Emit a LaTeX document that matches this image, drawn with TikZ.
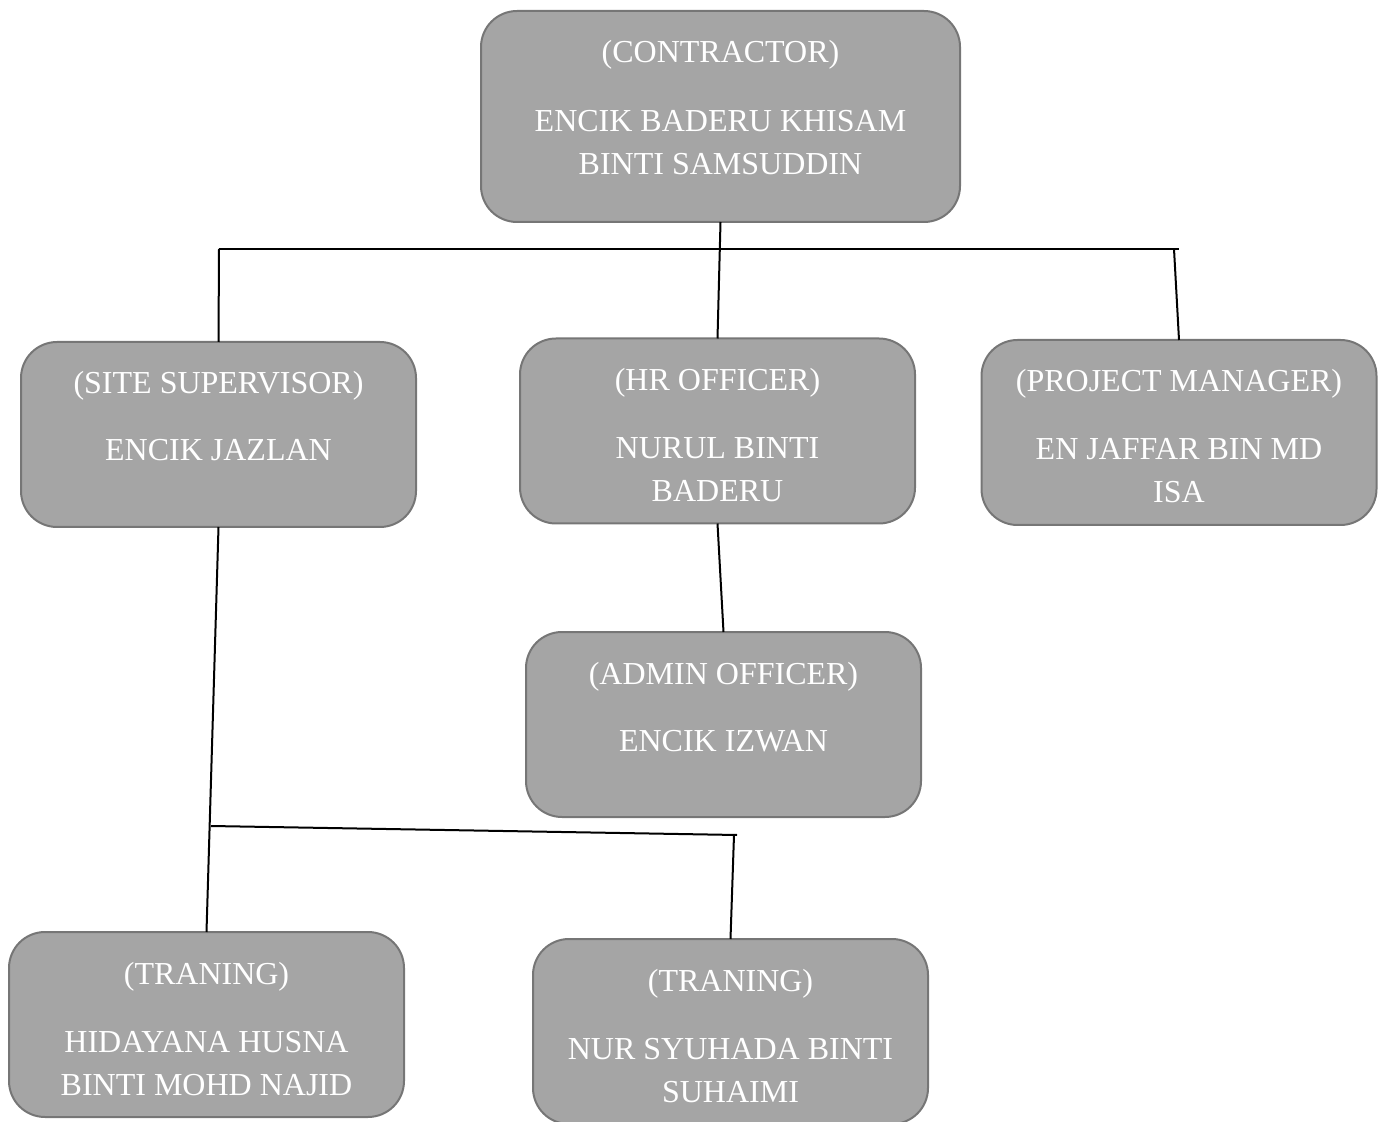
\documentclass[tikz,border=0pt]{standalone}
\usepackage{fontspec}
\setmainfont{Liberation Serif}
\definecolor{boxfill}{HTML}{A5A5A5}
\definecolor{boxline}{HTML}{767676}
\begin{document}
\begin{tikzpicture}[x=0.5pt,y=-0.5pt,
  orgbox/.style={draw=boxline, fill=boxfill, line width=1pt, rounded corners=18pt,
    inner sep=0pt, outer sep=0pt, minimum width=197.5pt, minimum height=92.5pt},
  orgtxt/.style={anchor=base, text=white, font=\fontsize{16}{19}\selectfont, inner sep=0pt},
  link/.style={line width=1pt, black}]
\useasboundingbox (0,0) rectangle (1386,1122);

% boxes
\node[orgbox, minimum width=239.5pt, minimum height=105.5pt] (contractor) at (720.5,116.5) {};
\node[orgbox] (site)  at (218.5,434.5) {};
\node[orgbox] (hr)    at (717.5,431) {};
\node[orgbox] (pm)    at (1179,432.5) {};
\node[orgbox] (admin) at (723.5,724.5) {};
\node[orgbox] (tra)   at (206.5,1024.5) {};
\node[orgbox] (trb)   at (730.5,1031.5) {};

% texts
\node[orgtxt] (contractor-t) at ([yshift=-26pt]contractor.north) {(CONTRACTOR)};
\node[orgtxt] (contractor-a) at ([yshift=-60.5pt]contractor.north) {ENCIK BADERU KHISAM};
\node[orgtxt] (contractor-b) at ([yshift=-82pt]contractor.north) {BINTI SAMSUDDIN};

\node[orgtxt] (site-t) at ([yshift=-26pt]site.north) {(SITE SUPERVISOR)};
\node[orgtxt] (site-a) at ([yshift=-59.5pt]site.north) {ENCIK JAZLAN};

\node[orgtxt] (hr-t) at ([yshift=-26pt]hr.north) {(HR OFFICER)};
\node[orgtxt] (hr-a) at ([yshift=-60pt]hr.north) {NURUL BINTI};
\node[orgtxt] (hr-b) at ([yshift=-81.5pt]hr.north) {BADERU};

\node[orgtxt] (pm-t) at ([yshift=-26pt]pm.north) {(PROJECT MANAGER)};
\node[orgtxt] (pm-a) at ([yshift=-60pt]pm.north) {EN JAFFAR BIN MD};
\node[orgtxt] (pm-b) at ([yshift=-81.5pt]pm.north) {ISA};

\node[orgtxt] (admin-t) at ([yshift=-26pt]admin.north) {(ADMIN OFFICER)};
\node[orgtxt] (admin-a) at ([yshift=-59.5pt]admin.north) {ENCIK IZWAN};

\node[orgtxt] (tra-t) at ([yshift=-26pt]tra.north) {(TRANING)};
\node[orgtxt] (tra-a) at ([yshift=-60pt]tra.north) {HIDAYANA HUSNA};
\node[orgtxt] (tra-b) at ([yshift=-81.5pt]tra.north) {BINTI MOHD NAJID};

\node[orgtxt] (trb-t) at ([yshift=-26pt]trb.north) {(TRANING)};
\node[orgtxt] (trb-a) at ([yshift=-60pt]trb.north) {NUR SYUHADA BINTI};
\node[orgtxt] (trb-b) at ([yshift=-81.5pt]trb.north) {SUHAIMI};

% junction coordinates
\coordinate (barL) at (219,249);
\coordinate (barR) at (1179,249);
\coordinate (barPM) at (1174,249);
\coordinate (bar2L) at (211,826);
\coordinate (bar2R) at (737,835);
\coordinate (bar2T) at (734,835);

% connectors
\draw[link] (contractor.south) -- (hr.north);
\draw[link] (barL) -- (barR);
\draw[link] (barL) -- (site.north);
\draw[link] (barPM) -- (pm.north);
\draw[link] (hr.south) -- (admin.north);
\draw[link] (site.south) -- (tra.north);
\draw[link] (bar2L) -- (bar2R);
\draw[link] (bar2T) -- (trb.north);
\end{tikzpicture}
\end{document}
